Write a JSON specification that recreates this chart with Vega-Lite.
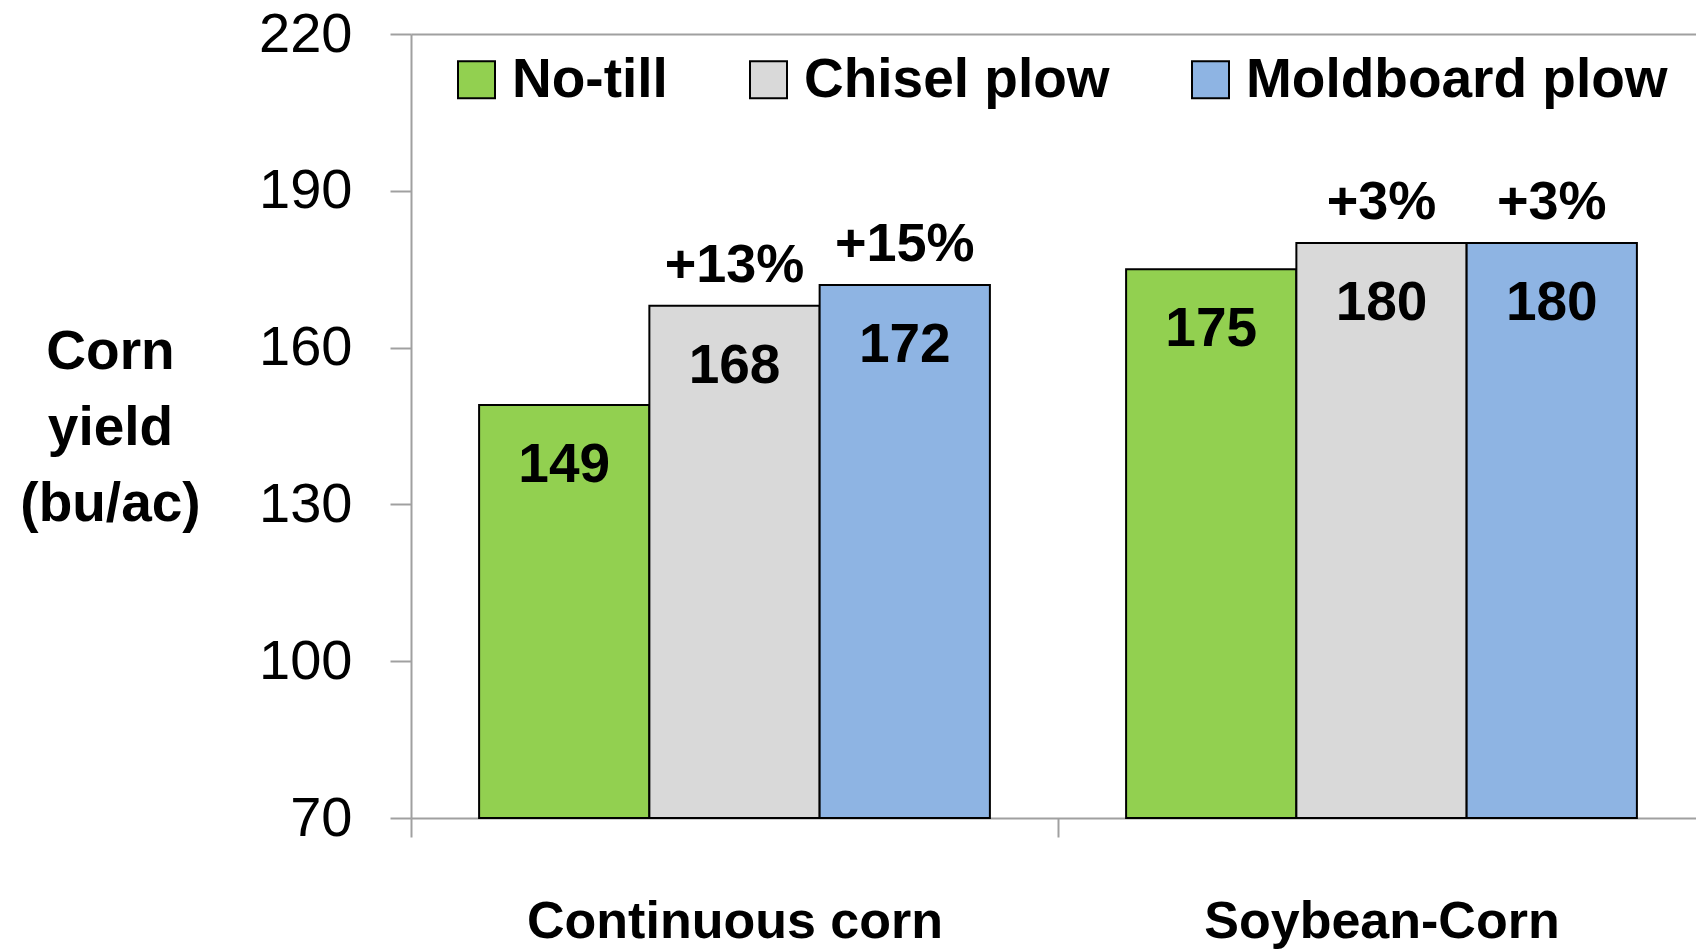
{
  "$schema": "https://vega.github.io/schema/vega-lite/v6.json",
  "autosize": "none",
  "width": 1285,
  "height": 784,
  "padding": {"left": 411, "top": 34, "right": 0, "bottom": 132},
  "background": "white",
  "config": {
    "font": "Liberation Sans",
    "view": {"stroke": null}
  },
  "data": {
    "values": [
      {"rotation": "Continuous corn", "tillage": "No-till", "yield": 149, "pct": ""},
      {"rotation": "Continuous corn", "tillage": "Chisel plow", "yield": 168, "pct": "+13%"},
      {"rotation": "Continuous corn", "tillage": "Moldboard plow", "yield": 172, "pct": "+15%"},
      {"rotation": "Soybean-Corn", "tillage": "No-till", "yield": 175, "pct": ""},
      {"rotation": "Soybean-Corn", "tillage": "Chisel plow", "yield": 180, "pct": "+3%"},
      {"rotation": "Soybean-Corn", "tillage": "Moldboard plow", "yield": 180, "pct": "+3%"}
    ]
  },
  "encoding": {
    "x": {
      "field": "rotation",
      "type": "nominal",
      "scale": {"paddingInner": 0, "paddingOuter": 0, "range": [0, 1294]},
      "axis": {
        "title": null,
        "labelAngle": 0,
        "labelFontSize": 52,
        "labelFontWeight": "bold",
        "labelColor": "black",
        "labelBaseline": "alphabetic",
        "labelPadding": 100,
        "labelLimit": 2000,
        "labelOverlap": false,
        "tickBand": "extent",
        "tickSize": 19,
        "tickWidth": 2,
        "tickColor": "#a0a0a0",
        "domainColor": "#a0a0a0",
        "domainWidth": 2,
        "grid": false
      }
    },
    "xOffset": {
      "field": "tillage",
      "type": "nominal",
      "sort": ["No-till", "Chisel plow", "Moldboard plow"],
      "scale": {"paddingInner": 0, "paddingOuter": 0.4}
    },
    "y": {
      "field": "yield",
      "type": "quantitative",
      "scale": {"domain": [70, 220], "nice": false, "zero": false},
      "axis": {
        "values": [70, 100, 130, 160, 190, 220],
        "title": ["Corn", "yield", "(bu/ac)"],
        "titleAngle": 0,
        "titleAlign": "center",
        "titleBaseline": "alphabetic",
        "titleFontSize": 55,
        "titleFontWeight": "bold",
        "titleColor": "black",
        "titleLineHeight": 76,
        "titleLimit": 2000,
        "titleX": -301,
        "titleY": 334,
        "labelFontSize": 56,
        "labelColor": "black",
        "labelPadding": 38,
        "tickSize": 21,
        "tickWidth": 2,
        "tickColor": "#a0a0a0",
        "domainColor": "#a0a0a0",
        "domainWidth": 2,
        "grid": true,
        "gridColor": "#a0a0a0",
        "gridWidth": 2,
        "gridOpacity": {"expr": "datum.value == 220 ? 1 : 0"}
      }
    }
  },
  "layer": [
    {
      "mark": {"type": "bar", "stroke": "black", "strokeWidth": 2},
      "encoding": {
        "y2": {"datum": 70},
        "color": {
          "field": "tillage",
          "type": "nominal",
          "scale": {
            "domain": ["No-till", "Chisel plow", "Moldboard plow"],
            "range": ["#92D050", "#D9D9D9", "#8EB4E3"]
          },
          "legend": {
            "orient": "none",
            "legendX": 38,
            "legendY": 18,
            "direction": "horizontal",
            "title": null,
            "padding": 0,
            "symbolType": "square",
            "symbolSize": 1369,
            "symbolStrokeColor": "black",
            "symbolStrokeWidth": 2,
            "symbolOpacity": 1,
            "symbolFillOpacity": 1,
            "labelFontSize": 55,
            "labelFontWeight": "bold",
            "labelColor": "black",
            "labelOffset": 8,
            "labelLimit": 2000,
            "columnPadding": 73
          }
        }
      }
    },
    {
      "mark": {"type": "text", "fontSize": 55, "fontWeight": "bold", "baseline": "alphabetic", "align": "center", "dy": 77, "color": "black"},
      "encoding": {"text": {"field": "yield", "type": "quantitative"}}
    },
    {
      "mark": {"type": "text", "fontSize": 54, "fontWeight": "bold", "baseline": "alphabetic", "align": "center", "dy": -24, "color": "black"},
      "encoding": {"text": {"field": "pct", "type": "nominal"}}
    }
  ]
}
